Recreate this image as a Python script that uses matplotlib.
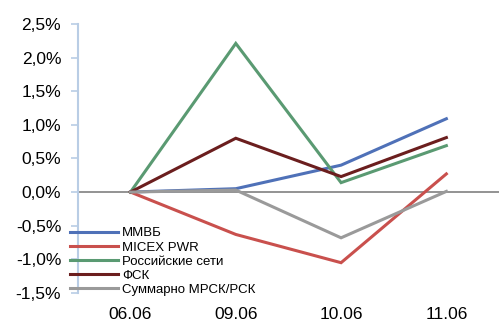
import matplotlib.pyplot as plt
from matplotlib.ticker import FuncFormatter

plt.rcParams["font.family"] = ["Liberation Sans", "DejaVu Sans"]

dates = ["06.06", "09.06", "10.06", "11.06"]
series_names = ["ММВБ", "MICEX PWR", "Российские сети", "ФСК", "Суммарно МРСК/РСК"]
micex = [0.0, 0.05, 0.40, 1.09]
micex_pwr = [0.0, -0.63, -1.05, 0.27]
ros_seti = [0.0, 2.21, 0.14, 0.69]
fsk = [0.0, 0.80, 0.23, 0.81]
mrsk_total = [0.0, 0.03, -0.68, 0.01]
colors = ["#4F71B8", "#C9504D", "#5A9A72", "#6B1E1E", "#9A9A9A"]

fig = plt.figure(figsize=(4.99, 3.23), dpi=100)
ax = fig.add_axes([0.156, 0.093, 0.844, 0.833])

x = range(len(dates))
for name, vals, c in zip(series_names, [micex, micex_pwr, ros_seti, fsk, mrsk_total], colors):
    ax.plot(x, vals, color=c, lw=2.2, label=name, solid_joinstyle="miter")

ax.axhline(0, color="#808080", lw=1.2, zorder=0)

ax.set_xlim(-0.5, 3.5)
ax.set_ylim(-1.5, 2.5)
ax.set_yticks([-1.5, -1.0, -0.5, 0.0, 0.5, 1.0, 1.5, 2.0, 2.5])
ax.yaxis.set_major_formatter(FuncFormatter(lambda v, p: f"{v:.1f}%".replace(".", ",")))
ax.set_xticks(list(x))
ax.set_xticklabels(dates)

for side in ["top", "right", "bottom"]:
    ax.spines[side].set_visible(False)
ax.spines["left"].set_color("#B9CDE5")
ax.spines["left"].set_linewidth(1.5)
ax.tick_params(axis="y", colors="#B9CDE5", labelcolor="black", length=5, width=1.2,
               labelsize=12.5, pad=7)
ax.tick_params(axis="x", length=0, labelsize=12.5, pad=10)

ax.legend(loc="lower left", bbox_to_anchor=(-0.03, -0.03), frameon=False, fontsize=9.5,
          handlelength=3.6, handletextpad=0.3, labelspacing=0.14, borderaxespad=0)

fig.savefig("out.png", dpi=100)
